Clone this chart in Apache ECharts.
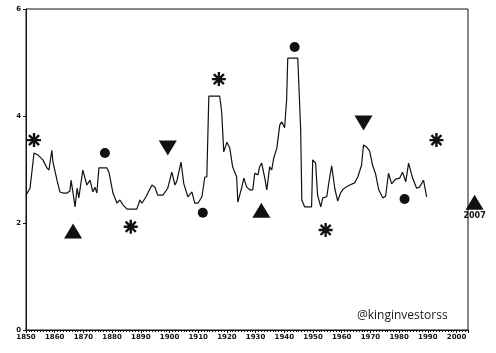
<!DOCTYPE html>
<html>
<head>
<meta charset="utf-8">
<script src="https://cdn.jsdelivr.net/npm/echarts@6/dist/echarts.min.js"></script>
<style>
	html, body { margin: 0; padding: 0; background: #fff; }
	#main { width: 496px; height: 353px; }
</style>
</head>
<body>
<div id="main"></div>
<script>
// Line series as [year, value] vertices
const lineYears = [
	1850, 1851.4, 1852.8, 1854.2, 1855.9, 1857.3, 1858, 1859, 1859.4, 1860.8,
	1861.8, 1862.9, 1864.3, 1865.3, 1865.7, 1866.4, 1867.1, 1867.8, 1868.4, 1869.8,
	1871.2, 1872.3, 1873.3, 1874, 1874.7, 1875.4, 1878.2, 1878.9, 1880.3, 1881.7,
	1882.7, 1883.8, 1885.2, 1888.6, 1889.7, 1890.4, 1891.8, 1893.9, 1894.9, 1895.9,
	1897.7, 1899.4, 1900.8, 1901.9, 1902.6, 1904, 1905, 1906.4, 1907.8, 1908.8,
	1909.9, 1911.3, 1912.3, 1913, 1913.7, 1917.5, 1918.2, 1918.9, 1920, 1921,
	1922, 1923.4, 1923.8, 1925.2, 1925.9, 1926.9, 1928, 1929, 1929.7, 1930.8,
	1931.4, 1932.1, 1933.2, 1933.9, 1934.9, 1935.6, 1936.3, 1937.4, 1938.4, 1939.1,
	1940.1, 1940.8, 1941.2, 1944.7, 1945.7, 1946.1, 1947.1, 1949.5, 1949.9, 1950.9,
	1951.6, 1952.7, 1953.4, 1954.8, 1955.5, 1956.5, 1957.6, 1958.6, 1959.6, 1960.3,
	1961.4, 1962.8, 1964.5, 1965.6, 1966.9, 1967.6, 1968.7, 1969.7, 1970.8, 1971.8,
	1972.9, 1974.3, 1975.3, 1976.3, 1977.4, 1978.8, 1980.2, 1981.2, 1982.3, 1983.3,
	1984.7, 1986.1, 1987.1, 1988.5, 1989.6
];
const lineValues = [
	2.52, 2.65, 3.31, 3.27, 3.18, 3.03, 2.99, 3.36, 3.14, 2.80,
	2.58, 2.56, 2.56, 2.60, 2.80, 2.56, 2.30, 2.65, 2.47, 2.99,
	2.71, 2.80, 2.58, 2.67, 2.56, 3.03, 3.03, 2.95, 2.56, 2.37,
	2.43, 2.34, 2.26, 2.26, 2.43, 2.37, 2.49, 2.71, 2.67, 2.52,
	2.52, 2.65, 2.95, 2.71, 2.79, 3.14, 2.73, 2.49, 2.58, 2.37,
	2.37, 2.49, 2.86, 2.86, 4.37, 4.37, 4.06, 3.33, 3.51, 3.40,
	3.05, 2.86, 2.39, 2.67, 2.84, 2.67, 2.62, 2.62, 2.93, 2.90,
	3.05, 3.12, 2.84, 2.62, 3.05, 2.99, 3.21, 3.40, 3.83, 3.89,
	3.78, 4.30, 5.08, 5.08, 3.74, 2.43, 2.30, 2.30, 3.18, 3.12,
	2.52, 2.30, 2.47, 2.49, 2.75, 3.07, 2.64, 2.41, 2.56, 2.62,
	2.67, 2.71, 2.75, 2.86, 3.08, 3.46, 3.42, 3.35, 3.07, 2.92,
	2.62, 2.47, 2.50, 2.93, 2.73, 2.82, 2.84, 2.95, 2.77, 3.12,
	2.84, 2.65, 2.67, 2.80, 2.49
];

// Marker positions
const asteriskYears = [1852.8, 1886.5, 1917.2, 1954.4, 1993];
const asteriskValues = [3.55, 1.93, 4.69, 1.87, 3.55];
const circleYears = [1877.5, 1911.6, 1943.6, 1981.9];
const circleValues = [3.31, 2.19, 5.29, 2.45];
const triUpYears = [1866.4, 1932, 2006.3];
const triUpValues = [1.85, 2.24, 2.39];
const triUpLabels = ['', '', '2007'];
const triDownYears = [1899.4, 1967.6];
const triDownValues = [3.40, 3.87];

const ink = '#111';
// 8-armed asterisk, thick strokes like the printed glyph
const asteriskPath = 'path://M8.3 0H11.7V20H8.3Z M0 8.3H20V11.7H0Z M1.6 4L4 1.6L18.4 16L16 18.4Z M16 1.6L18.4 4L4 18.4L1.6 16Z';

const zip = (xs, ys) => xs.map((x, i) => [x, ys[i]]);

const myChart = echarts.init(document.getElementById('main'), null, { renderer: 'canvas' });

const labelFont = { fontFamily: 'DejaVu Sans', fontSize: 7, fontWeight: 'bold', color: ink };
const markStyle = { color: ink, opacity: 1 };

option = {
	animation: false,
	backgroundColor: '#fff',
	grid: {
		left: 26,
		right: 28,
		top: 9,
		bottom: 23,
		show: true,
		borderColor: ink,
		borderWidth: 1
	},
	xAxis: {
		type: 'value',
		min: 1850,
		max: 2004,
		interval: 10,
		splitLine: { show: false },
		axisLine: { lineStyle: { color: ink, width: 1 } },
		axisTick: { length: 3, lineStyle: { color: ink } },
		minorTick: { show: true, splitNumber: 10, length: 2, lineStyle: { color: ink } },
		axisLabel: Object.assign({
			margin: 4,
			showMaxLabel: false,
			formatter: (v) => (v % 10 === 0 ? String(v) : '')
		}, labelFont)
	},
	yAxis: {
		type: 'value',
		min: 0,
		max: 6,
		interval: 2,
		splitLine: { show: false },
		axisLine: { show: true, lineStyle: { color: ink, width: 1 } },
		axisTick: { show: true, length: 3, lineStyle: { color: ink } },
		axisLabel: Object.assign({ margin: 5 }, labelFont)
	},
	graphic: [
		{
			type: 'text',
			left: 357,
			top: 310,
			style: {
				text: '@kinginvestorss',
				font: '12px "Open Sans"',
				fill: '#1a1a1a'
			}
		}
	],
	series: [
		{
			type: 'line',
			data: zip(lineYears, lineValues),
			showSymbol: false,
			lineStyle: { color: ink, width: 1.2 }
		},
		{
			type: 'scatter',
			clip: false,
			data: zip(asteriskYears, asteriskValues),
			symbol: asteriskPath,
			symbolSize: 14,
			itemStyle: markStyle
		},
		{
			type: 'scatter',
			clip: false,
			data: zip(circleYears, circleValues),
			symbol: 'circle',
			symbolSize: 10,
			itemStyle: markStyle
		},
		{
			type: 'scatter',
			clip: false,
			data: zip(triUpYears, triUpValues).map((p, i) => ({
				value: p,
				label: {
					show: triUpLabels[i] !== '',
					formatter: triUpLabels[i],
					position: 'bottom',
					distance: 2,
					fontFamily: 'DejaVu Sans',
					fontSize: 8,
					fontWeight: 'bold',
					color: ink
				}
			})),
			symbol: 'triangle',
			symbolSize: [18, 15],
			itemStyle: markStyle
		},
		{
			type: 'scatter',
			clip: false,
			data: zip(triDownYears, triDownValues),
			symbol: 'triangle',
			symbolRotate: 180,
			symbolSize: [18, 15],
			itemStyle: markStyle
		}
	]
};
myChart.setOption(option);
</script>
</body>
</html>
